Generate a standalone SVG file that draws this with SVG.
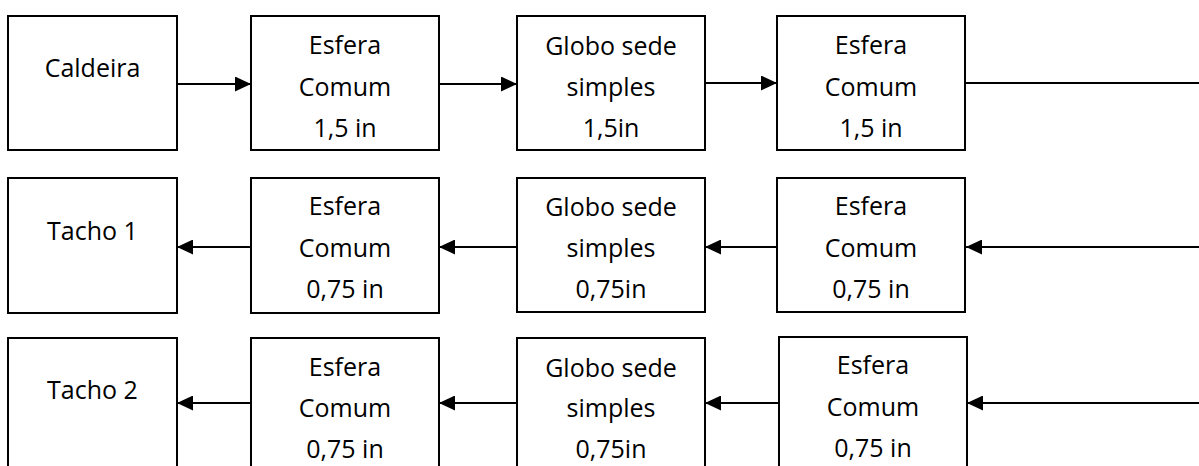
<svg xmlns="http://www.w3.org/2000/svg" width="1199" height="466" viewBox="0 0 1199 466">
<style>
.box{fill:#fff;stroke:#000;stroke-width:2}
.t{font-family:"Open Sans","Liberation Sans",sans-serif;font-size:25px;fill:#000;text-anchor:middle}
.c{stroke:#000;stroke-width:2;fill:none}
</style>
<defs>
<marker id="ah" viewBox="0 0 16 15" refX="16" refY="7.5" markerWidth="16" markerHeight="15" markerUnits="userSpaceOnUse" orient="auto">
<path d="M0,0 L16,7.5 L0,15 Z" fill="#000"/>
</marker>
</defs>
<rect width="1199" height="466" fill="#fff"/>
<g id="connectors">
<line class="c" x1="177" y1="84" x2="251" y2="84" marker-end="url(#ah)"/>
<line class="c" x1="439" y1="84" x2="517" y2="84" marker-end="url(#ah)"/>
<line class="c" x1="705" y1="83" x2="777" y2="83" marker-end="url(#ah)"/>
<line class="c" x1="965" y1="83" x2="1199" y2="83"/>
<line class="c" x1="1199" y1="247" x2="966" y2="247" marker-end="url(#ah)"/>
<line class="c" x1="777" y1="247" x2="705" y2="247" marker-end="url(#ah)"/>
<line class="c" x1="517" y1="247" x2="439" y2="247" marker-end="url(#ah)"/>
<line class="c" x1="251" y1="247" x2="177" y2="247" marker-end="url(#ah)"/>
<line class="c" x1="1199" y1="403" x2="967" y2="403" marker-end="url(#ah)"/>
<line class="c" x1="779" y1="403" x2="705" y2="403" marker-end="url(#ah)"/>
<line class="c" x1="517" y1="403" x2="439" y2="403" marker-end="url(#ah)"/>
<line class="c" x1="251" y1="403" x2="177" y2="403" marker-end="url(#ah)"/>
</g>
<g id="caldeira"><rect class="box" x="8" y="16" width="169" height="134"/><text class="t" x="92.5" y="77">Caldeira</text></g>
<g id="esfera-1a"><rect class="box" x="251" y="16" width="188" height="134"/><text class="t" x="345" y="54">Esfera</text><text class="t" x="345" y="96">Comum</text><text class="t" x="345" y="137">1,5 in</text></g>
<g id="globo-1"><rect class="box" x="517" y="16" width="188" height="134"/><text class="t" x="611" y="55">Globo sede</text><text class="t" x="611" y="96">simples</text><text class="t" x="611" y="137">1,5in</text></g>
<g id="esfera-1b"><rect class="box" x="777" y="16" width="188" height="134"/><text class="t" x="871" y="54">Esfera</text><text class="t" x="871" y="96">Comum</text><text class="t" x="871" y="137">1,5 in</text></g>
<g id="tacho1"><rect class="box" x="8" y="178" width="169" height="135"/><text class="t" x="92.5" y="240">Tacho 1</text></g>
<g id="esfera-2a"><rect class="box" x="251" y="178" width="188" height="135"/><text class="t" x="345" y="215">Esfera</text><text class="t" x="345" y="257">Comum</text><text class="t" x="345" y="298">0,75 in</text></g>
<g id="globo-2"><rect class="box" x="517" y="178" width="188" height="134"/><text class="t" x="611" y="216">Globo sede</text><text class="t" x="611" y="257">simples</text><text class="t" x="611" y="298">0,75in</text></g>
<g id="esfera-2b"><rect class="box" x="777" y="178" width="188" height="134"/><text class="t" x="871" y="215">Esfera</text><text class="t" x="871" y="257">Comum</text><text class="t" x="871" y="298">0,75 in</text></g>
<g id="tacho2"><rect class="box" x="8" y="338" width="169" height="140"/><text class="t" x="92.5" y="399">Tacho 2</text></g>
<g id="esfera-3a"><rect class="box" x="251" y="338" width="188" height="140"/><text class="t" x="345" y="376">Esfera</text><text class="t" x="345" y="417">Comum</text><text class="t" x="345" y="458">0,75 in</text></g>
<g id="globo-3"><rect class="box" x="517" y="338" width="188" height="140"/><text class="t" x="611" y="377">Globo sede</text><text class="t" x="611" y="417">simples</text><text class="t" x="611" y="458">0,75in</text></g>
<g id="esfera-3b"><rect class="box" x="779" y="337" width="188" height="141"/><text class="t" x="873" y="374">Esfera</text><text class="t" x="873" y="416">Comum</text><text class="t" x="873" y="457">0,75 in</text></g>
</svg>
